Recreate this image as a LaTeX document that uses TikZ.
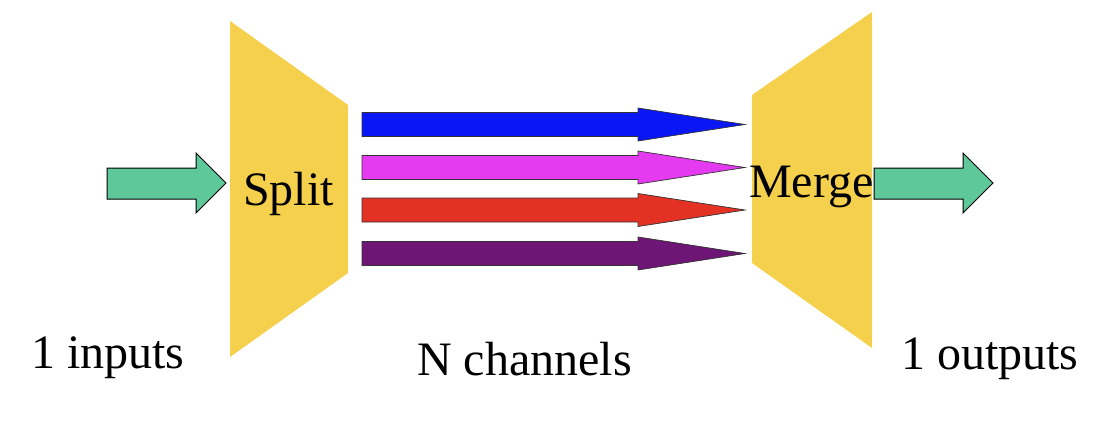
\documentclass[tikz,border=0pt]{standalone}
\usepackage{fontspec}
\setmainfont{Liberation Serif}
\definecolor{funnel}{HTML}{F5D04C}
\definecolor{flowgreen}{HTML}{5EC89A}
\definecolor{chblue}{HTML}{0A17F5}
\definecolor{chpink}{HTML}{E43AF0}
\definecolor{chred}{HTML}{E33224}
\definecolor{chpurple}{HTML}{6E1675}
\begin{document}
\begin{tikzpicture}[x=1pt,y=-1pt,
  funnelshape/.style={fill=funnel,draw=none},
  bigarrow/.style={fill=flowgreen,draw=black,line width=1pt,line join=miter},
  chanarrow/.style={draw=black!80,line width=0.7pt,line join=miter},
  lbl/.style={font=\fontsize{48}{52}\selectfont,inner sep=0pt,anchor=base west}]
\useasboundingbox (0,0) rectangle (1108,423);
% split and merge blocks
\path[funnelshape] (230,21) -- (348,105) -- (348,273) -- (230,357) -- cycle;
\path[funnelshape] (752,95) -- (872,12) -- (872,348) -- (752,263) -- cycle;
% labels on the blocks
\node[lbl] (split) at (243,205) {Split};
\node[lbl] (merge) at (749,197) {Merge};
% input and output arrows
\draw[bigarrow] (107,168) -- (196,168) -- (196,153) -- (226,183) -- (196,213) -- (196,199) -- (107,199) -- cycle;
\draw[bigarrow] (874,168) -- (963,168) -- (963,153) -- (993,183) -- (963,213) -- (963,199) -- (874,199) -- cycle;
% channel arrows
\foreach \yc/\col in {124.5/chblue,167.5/chpink,210/chred,253.5/chpurple}{
  \draw[chanarrow,fill=\col] (362,\yc-12) -- (638,\yc-12) -- (638,\yc-16.5) -- (745,\yc) -- (638,\yc+16.5) -- (638,\yc+12) -- (362,\yc+12) -- cycle;
}
% bottom labels
\node[lbl] (inputs) at (31,368) {1 inputs};
\node[lbl] (channels) at (417,375) {N channels};
\node[lbl] (outputs) at (901,369) {1 outputs};
\end{tikzpicture}
\end{document}
